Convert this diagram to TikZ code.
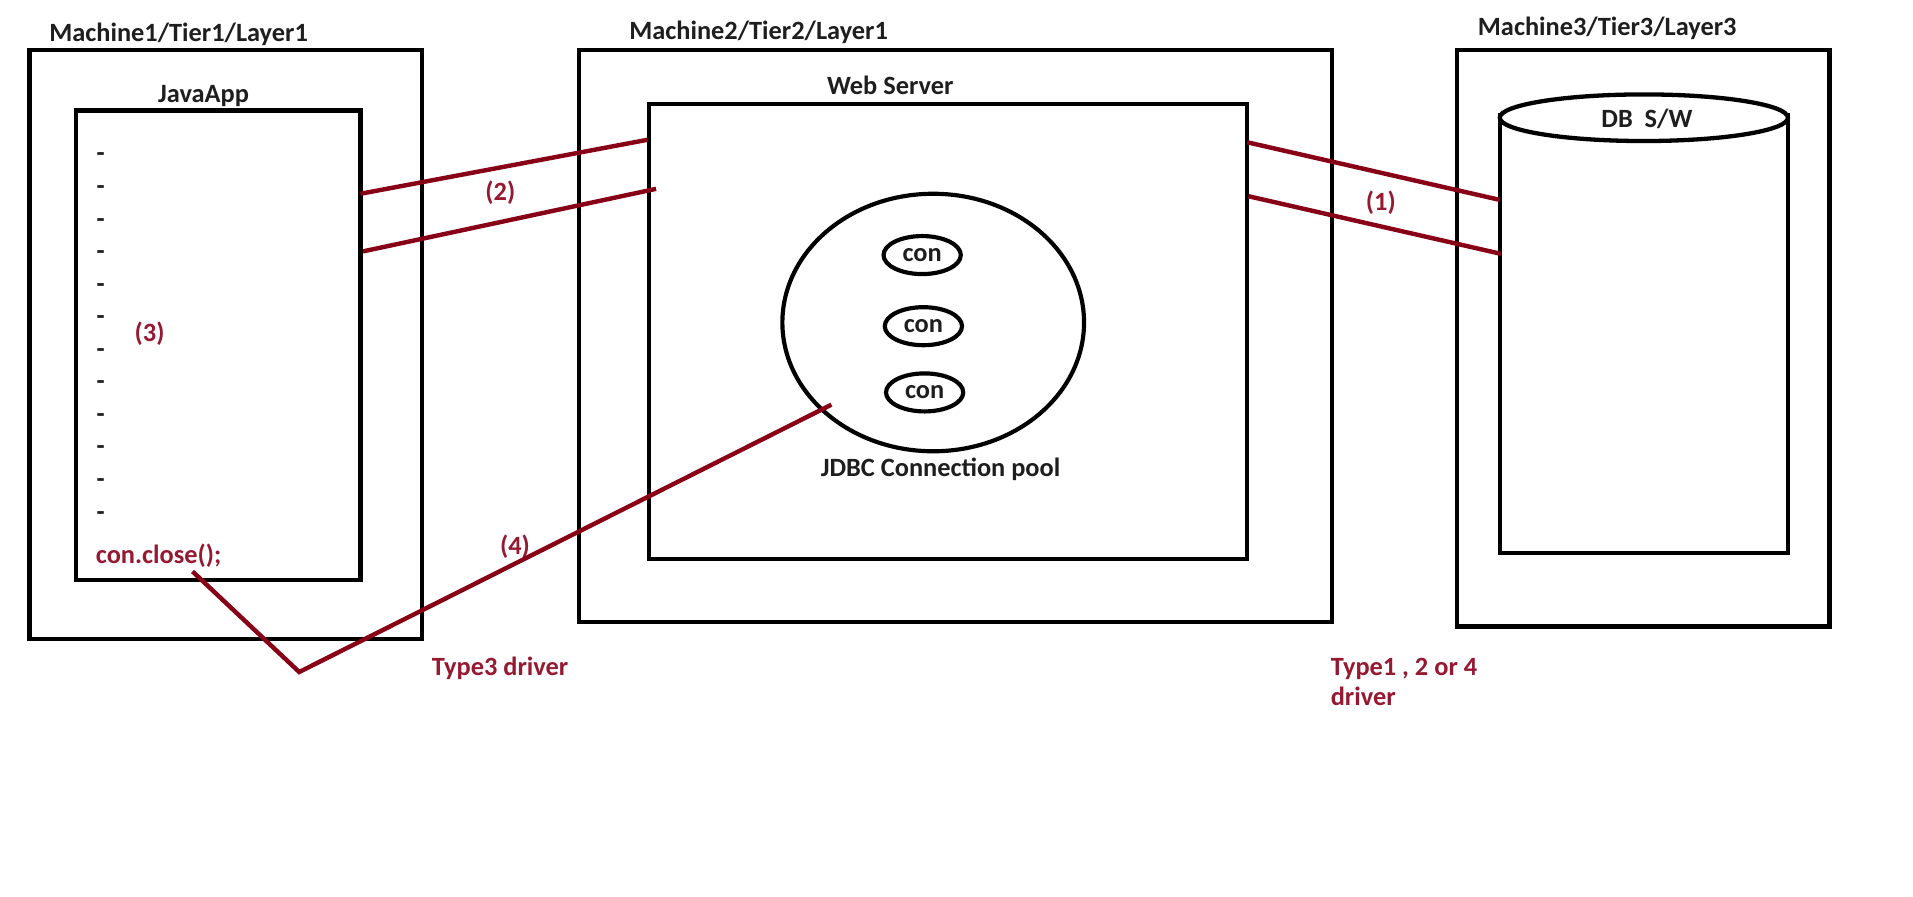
\documentclass[tikz,border=0pt]{standalone}
\usepackage{fontspec}
\setmainfont{Carlito}
\usetikzlibrary{shapes.geometric}
\definecolor{dred}{RGB}{136,0,21}
\definecolor{tred}{RGB}{150,25,50}
\definecolor{ink}{RGB}{30,30,30}
\begin{document}
\begin{tikzpicture}[x=1pt,y=-1pt,
  box/.style={draw=black,line width=3.5pt,inner sep=0pt},
  lbl/.style={font=\fontsize{21.5}{25}\selectfont\bfseries,text=ink,inner sep=0pt},
  rlbl/.style={font=\fontsize{21.5}{25}\selectfont\bfseries,text=tred,inner sep=0pt},
  wire/.style={draw=dred,line width=3.6pt},
  conbox/.style={ellipse,draw=black,line width=3.4pt,minimum width=63pt,minimum height=31pt,inner sep=0pt,font=\fontsize{21.5}{25}\selectfont\bfseries,text=ink}
]
\useasboundingbox (0,0) rectangle (1560,731);
\fill[white] (0,0) rectangle (1560,731);

% boxes
\node[box,minimum width=320pt,minimum height=480pt] (m1) at (184,281) {};
\node[box,minimum width=232pt,minimum height=383pt] (java) at (178,281.5) {};
\node[box,minimum width=614pt,minimum height=466pt] (m2) at (779,274) {};
\node[box,minimum width=488pt,minimum height=371pt] (web) at (773,270.5) {};
\node[ellipse,draw=black,line width=3.4pt,minimum width=246pt,minimum height=210pt,inner sep=0pt] (pool) at (761,263) {};
\node[conbox] (c1) at (752,208) {con};
\node[conbox] (c2) at (753,266) {con};
\node[conbox] (c3) at (754,320) {con};
\node[box,minimum width=304pt,minimum height=470pt] (m3) at (1340,276) {};

% cylinder
\draw[black,line width=3.5pt] (1223,92) -- (1223,451) -- (1458,451) -- (1458,92);
\draw[black,line width=3.5pt,fill=white] (1340.5,96) ellipse [x radius=117.5, y radius=19];

% labels
\node[lbl,anchor=west] (l1) at (40,28) {Machine1/Tier1/Layer1};
\node[lbl] (ljava) at (166,78) {JavaApp};
\foreach \i/\yy in {1/128,2/155,3/182,4/208,5/235,6/261,7/288,8/314,9/341,10/367,11/394,12/421}
  \node[lbl] (d\i) at (82,\yy) {-};
\node[rlbl] (t3) at (122,272) {(3)};
\node[rlbl,anchor=west] (close) at (78,453) {con.close();};
\node[rlbl] (t2) at (408,157) {(2)};
\node[lbl,anchor=west] (l2) at (513,26) {Machine2/Tier2/Layer1};
\node[lbl] (lweb) at (726,70) {Web Server};
\node[lbl] (lpool) at (767,383) {JDBC Connection pool};
\node[rlbl] (t4) at (420,446) {(4)};
\node[rlbl,anchor=west] (type3) at (352,545) {Type3 driver};
\node[rlbl] (t1) at (1126,165) {(1)};
\node[lbl,anchor=west] (l3) at (1205,23) {Machine3/Tier3/Layer3};
\node[lbl] (db) at (1343,97) {DB~~S/W};
\node[rlbl,anchor=west,align=left] (type124) at (1085,556) {Type1 , 2 or 4\\driver};

% connector end points
\coordinate (a2) at (294,158);
\coordinate (b2) at (528,114);
\coordinate (a2x) at (296,205);
\coordinate (b2x) at (535,154);
\coordinate (a1) at (1017,116);
\coordinate (b1) at (1223,163);
\coordinate (a1x) at (1018,160);
\coordinate (b1x) at (1224,207);
\coordinate (p4) at (678,330);
\coordinate (v4) at (244,548);
\coordinate (e4) at (157,466);

% connectors
\draw[wire] (a2) -- (b2);
\draw[wire] (a2x) -- (b2x);
\draw[wire] (a1) -- (b1);
\draw[wire] (a1x) -- (b1x);
\draw[wire] (p4) -- (v4) -- (e4);
\end{tikzpicture}
\end{document}
